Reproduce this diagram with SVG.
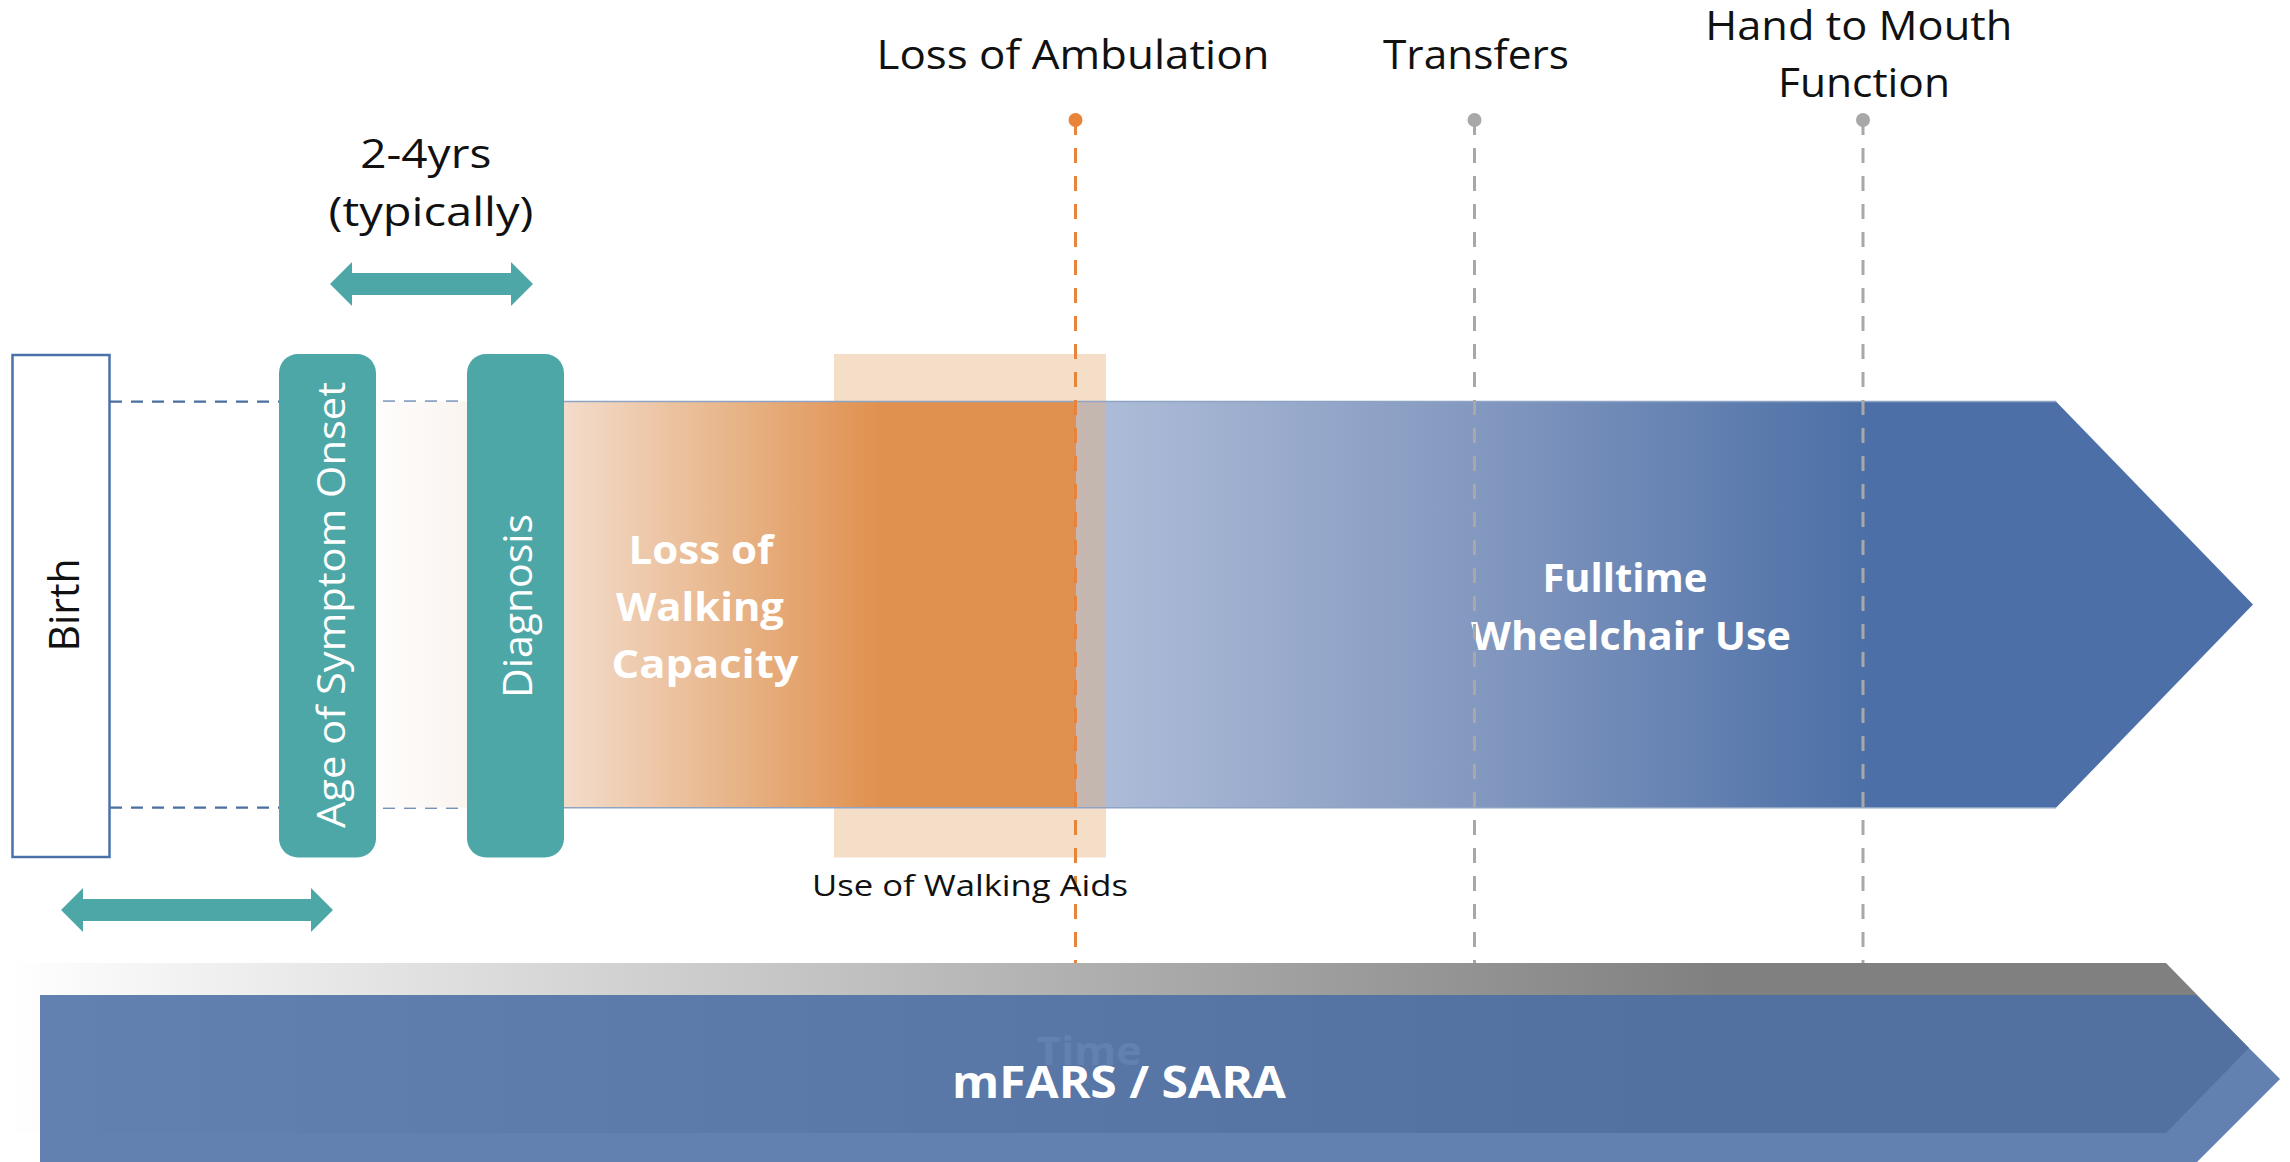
<svg xmlns="http://www.w3.org/2000/svg" width="2290" height="1162" viewBox="0 0 2290 1162">
<defs>
<style>
.lbl{font-family:"Open Sans","Liberation Sans",sans-serif;fill:#111;}
.reg{font-weight:400;}
.bold{font-weight:700;fill:#fff;}
.pill{fill:#4ea7a7;}
.teal{fill:#4ea7a7;}
.vdash{stroke-width:3;stroke-dasharray:15 13;fill:none;}
.bdash{stroke:#4a6fa0;stroke-width:2.2;stroke-dasharray:12 9;fill:none;}
</style>
<linearGradient id="grayG" gradientUnits="userSpaceOnUse" x1="8" y1="0" x2="1722" y2="0">
<stop offset="0" stop-color="#ffffff"/>
<stop offset="1" stop-color="#808080"/>
</linearGradient>
<linearGradient id="orangeG" gradientUnits="userSpaceOnUse" x1="376" y1="0" x2="1076" y2="0">
<stop offset="0" stop-color="#fefdfc"/>
<stop offset="0.13" stop-color="#faf4ef"/>
<stop offset="0.269" stop-color="#f3dccb"/>
<stop offset="0.5" stop-color="#e8b68b"/>
<stop offset="0.719" stop-color="#e0914f"/>
<stop offset="1" stop-color="#e0914f"/>
</linearGradient>
<linearGradient id="blueG" gradientUnits="userSpaceOnUse" x1="1076" y1="0" x2="1870" y2="0">
<stop offset="0" stop-color="#b0bed9"/>
<stop offset="0.5" stop-color="#8499c0"/>
<stop offset="1" stop-color="#4b6fa6"/>
</linearGradient>
</defs>

<!-- Time / mFARS bottom arrows -->
<g id="time-arrow">
<polygon points="8,963 2166,963 2249,1048 2166,1133 8,1133" fill="url(#grayG)"/>
<text x="1089" y="1065" class="lbl" font-weight="700" font-size="39" fill="#ffffff" text-anchor="middle" textLength="105" lengthAdjust="spacingAndGlyphs" style="fill:#fff">Time</text>
</g>
<g id="mfars-arrow">
<polygon points="40,995 2196,995 2280,1079 2196,1163 40,1163" fill="#4b6da4" fill-opacity="0.87"/>
<text x="1119" y="1098" class="lbl bold" font-size="44" text-anchor="middle" textLength="334" lengthAdjust="spacingAndGlyphs">mFARS / SARA</text>
</g>

<!-- connectors: dashed guide lines from Birth -->
<g id="connectors">
<line x1="110" y1="401.6" x2="467" y2="401.6" class="bdash"/>
<line x1="110" y1="807.7" x2="467" y2="807.7" class="bdash"/>
</g>

<!-- Fulltime wheelchair band -->
<g id="wheelchair-band">
<polygon points="1076,401.6 2056,401.6 2253,604.6 2056,807.7 1076,807.7" fill="url(#blueG)"/>
</g>

<!-- Walking aids -->
<g id="walking-aids">
<rect x="834" y="354" width="272" height="503.5" fill="#e6ac75" fill-opacity="0.4"/>
</g>

<!-- Loss of walking capacity band -->
<g id="walking-capacity-band">
<rect x="376" y="401.6" width="700" height="406.1" fill="url(#orangeG)"/>
<line x1="564" y1="401.6" x2="2056" y2="401.6" stroke="#8ea4c4" stroke-width="1.5"/>
<line x1="564" y1="807.7" x2="2056" y2="807.7" stroke="#8ea4c4" stroke-width="1.5"/>
<text class="lbl bold" font-size="39" text-anchor="middle">
<tspan x="706" y="564" textLength="145" lengthAdjust="spacingAndGlyphs">Loss of</tspan>
<tspan x="705" y="621" textLength="168" lengthAdjust="spacingAndGlyphs">Walking</tspan>
<tspan x="705" y="678" textLength="187" lengthAdjust="spacingAndGlyphs">Capacity</tspan>
</text>
<text class="lbl bold" font-size="39" text-anchor="middle">
<tspan x="1630" y="592" textLength="165" lengthAdjust="spacingAndGlyphs">Fulltime</tspan>
<tspan x="1631" y="650" textLength="320" lengthAdjust="spacingAndGlyphs">Wheelchair Use</tspan>
</text>
</g>

<!-- Birth -->
<g id="birth">
<rect x="12.5" y="355" width="97" height="502" fill="#ffffff" stroke="#4a72a8" stroke-width="2.5"/>
<text x="78.5" y="605" class="lbl reg" font-size="42" text-anchor="middle" transform="rotate(-90 78.5 605)" textLength="93" lengthAdjust="spacingAndGlyphs">Birth</text>
</g>

<!-- Age of Symptom Onset -->
<g id="symptom-onset">
<rect x="279" y="354" width="97" height="503.5" rx="19" class="pill"/>
<text x="344.5" y="605" class="lbl reg" font-size="38" text-anchor="middle" transform="rotate(-90 344.5 605)" textLength="446" lengthAdjust="spacingAndGlyphs" style="fill:#fff">Age of Symptom Onset</text>
</g>

<!-- Diagnosis -->
<g id="diagnosis">
<rect x="467" y="354" width="97" height="503.5" rx="19" class="pill"/>
<text x="532" y="606" class="lbl reg" font-size="41" text-anchor="middle" transform="rotate(-90 532 606)" textLength="184" lengthAdjust="spacingAndGlyphs" style="fill:#fff">Diagnosis</text>
</g>

<!-- milestone markers -->
<g id="loss-of-ambulation">
<line x1="1075.5" y1="120" x2="1075.5" y2="963" class="vdash" stroke="#e8833a"/>
<circle cx="1075.5" cy="120" r="7" fill="#e8833a"/>
<text x="1073" y="69" class="lbl reg" font-size="40" text-anchor="middle" textLength="393" lengthAdjust="spacingAndGlyphs">Loss of Ambulation</text>
</g>
<g id="transfers">
<line x1="1474.5" y1="120" x2="1474.5" y2="963" class="vdash" stroke="#a8a8a8"/>
<circle cx="1474.5" cy="120" r="7" fill="#a8a8a8"/>
<text x="1476" y="69" class="lbl reg" font-size="40" text-anchor="middle" textLength="186" lengthAdjust="spacingAndGlyphs">Transfers</text>
</g>
<g id="hand-to-mouth">
<line x1="1863" y1="120" x2="1863" y2="963" class="vdash" stroke="#a8a8a8"/>
<circle cx="1863" cy="120" r="7" fill="#a8a8a8"/>
<text class="lbl reg" font-size="40" text-anchor="middle">
<tspan x="1864" y="40" textLength="307" lengthAdjust="spacingAndGlyphs">Hand to Mouth</tspan>
<tspan x="1864" y="97" textLength="172" lengthAdjust="spacingAndGlyphs">Function</tspan>
</text>
</g>

<!-- Use of walking aids label -->
<g id="walking-aids-label">
<text x="970" y="896" class="lbl reg" font-size="30" text-anchor="middle" textLength="316" lengthAdjust="spacingAndGlyphs">Use of Walking Aids</text>
</g>

<!-- 2-4yrs interval -->
<g id="interval-2-4yrs">
<text class="lbl reg" font-size="40" text-anchor="middle">
<tspan x="431" y="168" textLength="131" lengthAdjust="spacingAndGlyphs">2-4yrs</tspan>
<tspan x="431" y="226" textLength="205" lengthAdjust="spacingAndGlyphs">(typically)</tspan>
</text>
<polygon class="teal" points="330,284 352,262 352,273 511,273 511,262 533,284 511,306 511,295 352,295 352,306"/>
</g>

<!-- birth to onset interval -->
<g id="interval-birth-onset">
<polygon class="teal" points="61,910 83,888 83,899 311,899 311,888 333,910 311,932 311,921 83,921 83,932"/>
</g>
</svg>
